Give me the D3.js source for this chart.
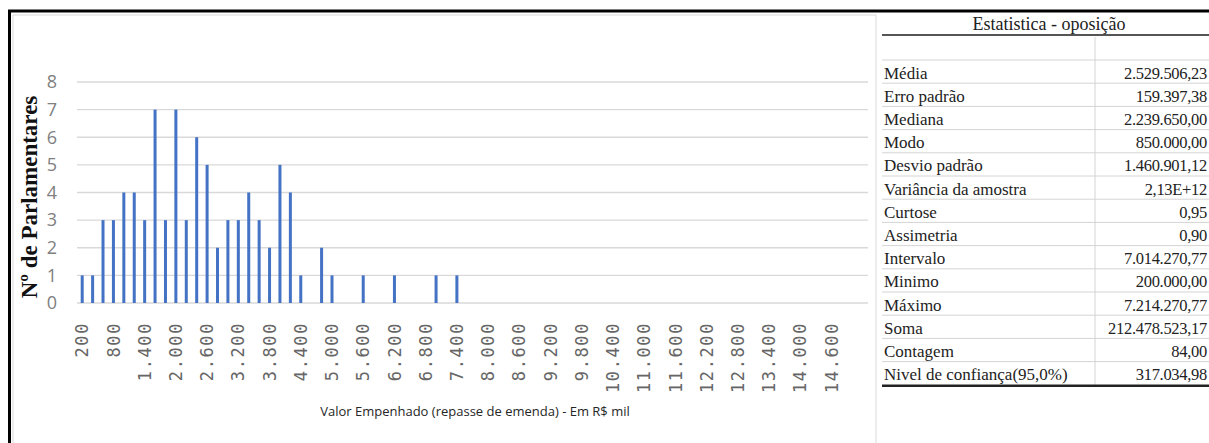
<!DOCTYPE html>
<html>
<head>
<meta charset="utf-8">
<script src="https://cdn.jsdelivr.net/npm/d3@7"></script>
<style>
body { margin: 0; background: #fff; }
</style>
</head>
<body>
<div id="chart"></div>
<script>
// classes do histograma (limite em R$ mil)
var bins = [200, 400, 600, 800, 1000, 1200, 1400, 1600, 1800, 2000, 2200, 2400, 2600, 2800, 3000, 3200,
  3400, 3600, 3800, 4000, 4200, 4400, 4600, 4800, 5000, 5200, 5400, 5600, 5800, 6000, 6200, 6400,
  6600, 6800, 7000, 7200, 7400, 7600, 7800, 8000, 8200, 8400, 8600, 8800, 9000, 9200, 9400, 9600,
  9800, 10000, 10200, 10400, 10600, 10800, 11000, 11200, 11400, 11600, 11800, 12000, 12200, 12400,
  12600, 12800, 13000, 13200, 13400, 13600, 13800, 14000, 14200, 14400, 14600, 14800, 15000, 15200];
// numero de parlamentares por classe
var counts = [1, 1, 3, 3, 4, 4, 3, 7, 3, 7, 3, 6, 5, 2, 3, 3,
  4, 3, 2, 5, 4, 1, 0, 2, 1, 0, 0, 1, 0, 0, 1, 0,
  0, 0, 1, 0, 1, 0, 0, 0, 0, 0, 0, 0, 0, 0, 0, 0,
  0, 0, 0, 0, 0, 0, 0, 0, 0, 0, 0, 0, 0, 0,
  0, 0, 0, 0, 0, 0, 0, 0, 0, 0, 0, 0, 0, 0];
var tickLabels = ["200", "800", "1.400", "2.000", "2.600", "3.200", "3.800", "4.400", "5.000", "5.600",
  "6.200", "6.800", "7.400", "8.000", "8.600", "9.200", "9.800", "10.400", "11.000", "11.600",
  "12.200", "12.800", "13.400", "14.000", "14.600"];
var yTicks = [0, 1, 2, 3, 4, 5, 6, 7, 8];

var statNames = ["Média", "Erro padrão", "Mediana", "Modo", "Desvio padrão", "Variância da amostra",
  "Curtose", "Assimetria", "Intervalo", "Minimo", "Máximo", "Soma", "Contagem", "Nivel de confiança(95,0%)"];
var statValues = ["2.529.506,23", "159.397,38", "2.239.650,00", "850.000,00", "1.460.901,12", "2,13E+12",
  "0,95", "0,90", "7.014.270,77", "200.000,00", "7.214.270,77", "212.478.523,17", "84,00", "317.034,98"];

var width = 1209, height = 443;
var svg = d3.select("#chart").append("svg")
  .attr("width", width)
  .attr("height", height)
  .style("display", "block");

// molduras
svg.append("rect")
  .attr("x", 13).attr("y", 15)
  .attr("width", 863).attr("height", 440)
  .attr("fill", "none")
  .attr("stroke", "#d9d9d9");
svg.append("line")
  .attr("x1", 8).attr("x2", width)
  .attr("y1", 11).attr("y2", 11)
  .attr("stroke", "#000").attr("stroke-width", 3);
svg.append("line")
  .attr("x1", 9.5).attr("x2", 9.5)
  .attr("y1", 10).attr("y2", height)
  .attr("stroke", "#000").attr("stroke-width", 3);

var plot = {left: 77, right: 868, top: 82, bottom: 303};

var x = d3.scaleBand()
  .domain(bins)
  .range([plot.left, plot.right]);

var y = d3.scaleLinear()
  .domain([0, 8])
  .range([plot.bottom, plot.top]);

// linhas de grade
svg.append("g").selectAll("line")
  .data(yTicks)
  .enter()
  .append("line")
  .attr("x1", plot.left)
  .attr("x2", plot.right)
  .attr("y1", d => y(d))
  .attr("y2", d => y(d))
  .attr("stroke", "#d9d9d9")
  .attr("stroke-width", 1.3);

// barras
var barW = 3;
svg.append("g").selectAll("rect")
  .data(bins)
  .enter()
  .append("rect")
  .attr("x", (d) => x(d) + x.bandwidth() / 2 - barW / 2)
  .attr("y", (d, i) => y(counts[i]))
  .attr("width", barW)
  .attr("height", (d, i) => y(0) - y(counts[i]))
  .attr("fill", "#4472c4");

// eixo y
var yAxis = svg.append("g")
  .attr("transform", "translate(" + plot.left + ",0)")
  .call(d3.axisLeft(y).tickValues(yTicks).tickSize(0).tickPadding(20).tickFormat(d3.format("d")));
yAxis.select(".domain").remove();
yAxis.selectAll("text")
  .attr("fill", "#808080")
  .attr("font-family", "Open Sans")
  .attr("font-size", "18px");

// eixo x
var xTickVals = bins.filter((d, i) => i % 3 == 0).slice(0, tickLabels.length);
var xAxis = svg.append("g")
  .attr("transform", "translate(0," + plot.bottom + ")")
  .call(d3.axisBottom(x).tickValues(xTickVals).tickSize(0).tickFormat((d, i) => tickLabels[i]));
xAxis.select(".domain").remove();
xAxis.selectAll("text")
  .attr("transform", "rotate(-90)")
  .attr("x", -19)
  .attr("y", 0)
  .attr("dy", "0.36em")
  .attr("text-anchor", "end")
  .attr("fill", "#666")
  .attr("font-family", "DejaVu Sans Mono")
  .attr("font-size", "17px")
  .attr("letter-spacing", "1.6px");

// titulos dos eixos
svg.append("text")
  .attr("transform", "translate(37,197) rotate(-90)")
  .attr("text-anchor", "middle")
  .attr("font-family", "Liberation Serif")
  .attr("font-weight", "bold")
  .attr("font-size", "23px")
  .attr("fill", "#111")
  .text("Nº de Parlamentares");

svg.append("text")
  .attr("x", 475)
  .attr("y", 416)
  .attr("text-anchor", "middle")
  .attr("font-family", "Open Sans")
  .attr("font-size", "13px")
  .attr("fill", "#262626")
  .text("Valor Empenhado (repasse de emenda) - Em R$ mil");

// tabela de estatisticas
var tab = svg.append("g");
var tLeft = 882, tSep = 1095, rowTop = 60, rowH = 23.2;

tab.append("text")
  .attr("x", 1049)
  .attr("y", 30)
  .attr("text-anchor", "middle")
  .attr("font-family", "Liberation Serif")
  .attr("font-size", "18px")
  .attr("fill", "#222")
  .text("Estatistica - oposição");

tab.append("line")
  .attr("x1", tSep).attr("x2", tSep)
  .attr("y1", 37).attr("y2", rowTop + rowH * statNames.length)
  .attr("stroke", "#d4d4d4");

tab.selectAll("line.row")
  .data(d3.range(statNames.length))
  .enter()
  .append("line")
  .attr("class", "row")
  .attr("x1", tLeft).attr("x2", width)
  .attr("y1", i => rowTop + i * rowH)
  .attr("y2", i => rowTop + i * rowH)
  .attr("stroke", "#d4d4d4");

tab.selectAll("text.name")
  .data(statNames)
  .enter()
  .append("text")
  .attr("class", "name")
  .attr("x", tLeft + 2)
  .attr("y", (d, i) => rowTop + i * rowH + 18.5)
  .attr("font-family", "Liberation Serif")
  .attr("font-size", "17px")
  .attr("fill", "#222")
  .text(d => d);

tab.selectAll("text.val")
  .data(statValues)
  .enter()
  .append("text")
  .attr("class", "val")
  .attr("x", 1207)
  .attr("y", (d, i) => rowTop + i * rowH + 18.5)
  .attr("text-anchor", "end")
  .attr("font-family", "Liberation Serif")
  .attr("font-size", "16.5px")
  .attr("letter-spacing", "-0.3px")
  .attr("fill", "#222")
  .text(d => d);

tab.append("line")
  .attr("x1", tLeft).attr("x2", width)
  .attr("y1", 35).attr("y2", 35)
  .attr("stroke", "#555").attr("stroke-width", 2);
tab.append("line")
  .attr("x1", tLeft).attr("x2", width)
  .attr("y1", rowTop + rowH * statNames.length + 1).attr("y2", rowTop + rowH * statNames.length + 1)
  .attr("stroke", "#222").attr("stroke-width", 2.5);
</script>
</body>
</html>
